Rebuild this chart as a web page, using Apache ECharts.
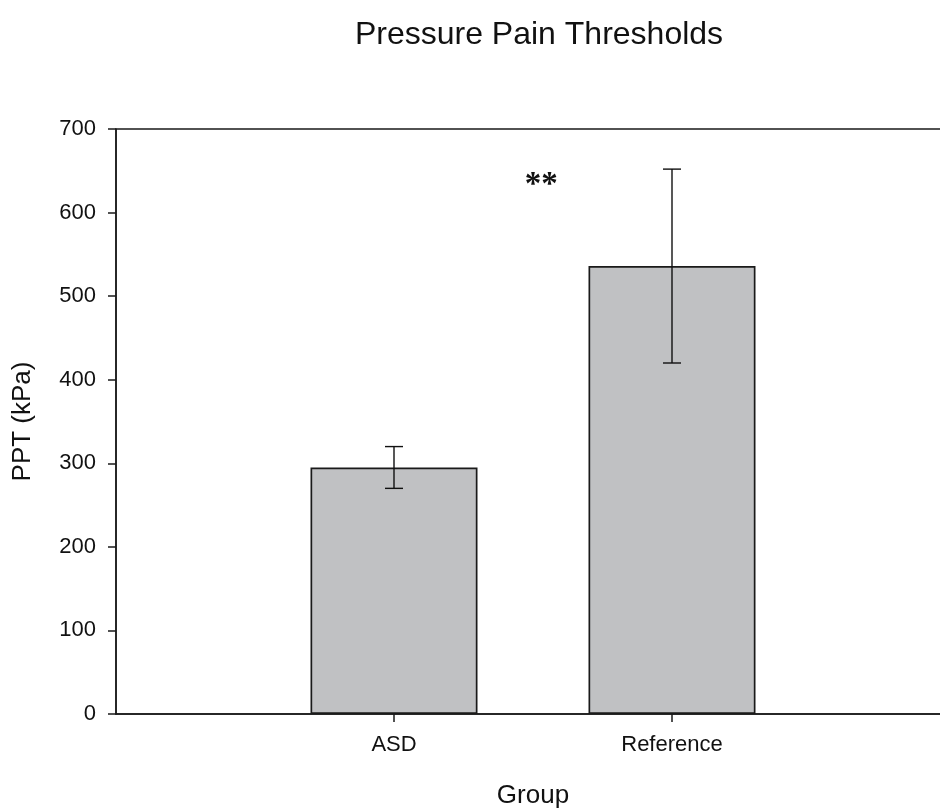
<!DOCTYPE html>
<html>
<head>
<meta charset="utf-8">
<script src="https://cdn.jsdelivr.net/npm/echarts@6/dist/echarts.min.js"></script>
<style>html,body{margin:0;padding:0;background:#fff}#c{width:940px;height:808px}</style>
</head>
<body>
<div id="c"></div>
<script>
var categories = ['ASD', 'Reference'];
var means = [295, 536];
var errLower = [270, 420];
var errUpper = [320, 652];
var yTicks = [0, 100, 200, 300, 400, 500, 600, 700];
var annotationText = '**';
var annotationPos = [1.53, 632];

var axisCats = [''].concat(categories).concat(['']);
var barData = ['-'].concat(means).concat(['-']);
var errData = categories.map(function (c, i) { return [i + 1, errLower[i], errUpper[i]]; });

var FONT = '"Liberation Sans", Arial, sans-serif';
var chart = echarts.init(document.getElementById('c'));
chart.setOption({
  animation: false,
  backgroundColor: '#ffffff',
  title: {
    text: 'Pressure Pain Thresholds',
    left: 534, top: 14, textAlign: 'center',
    textStyle: { fontFamily: FONT, fontSize: 32, fontWeight: 'normal', color: '#111' }
  },
  grid: {
    left: 116, top: 129, width: 834, bottom: 94,
    outerBoundsMode: 'none', containLabel: false,
    show: true, borderColor: '#1a1a1a', borderWidth: 1.5, backgroundColor: 'transparent'
  },
  xAxis: {
    type: 'category', data: axisCats, boundaryGap: false,
    name: 'Group', nameLocation: 'middle', nameGap: 69,
    nameTextStyle: { fontFamily: FONT, fontSize: 26, color: '#111' },
    axisLine: { lineStyle: { color: '#1a1a1a', width: 1.5 } },
    axisTick: { show: true, length: 8, lineStyle: { color: '#1a1a1a', width: 1.5 },
      interval: function (idx, val) { return val !== ''; } },
    axisLabel: { interval: 0, margin: 20, fontFamily: FONT, fontSize: 22, color: '#111' },
    splitLine: { show: false }
  },
  yAxis: {
    type: 'value', min: 0, max: 700, interval: 100,
    name: 'PPT (kPa)', nameLocation: 'middle', nameGap: 80, nameRotate: 90,
    nameTextStyle: { fontFamily: FONT, fontSize: 26, color: '#111' },
    axisLine: { show: true, lineStyle: { color: '#1a1a1a', width: 1.5 } },
    axisTick: { show: true, length: 8, lineStyle: { color: '#1a1a1a', width: 1.5 } },
    axisLabel: { margin: 20, fontFamily: FONT, fontSize: 22, color: '#111',
      formatter: function (v) { return yTicks.indexOf(v) >= 0 ? String(v) : ''; } },
    splitLine: { show: false }
  },
  series: [
    {
      type: 'bar', data: barData, barWidth: 167,
      itemStyle: { color: '#c0c1c3', borderColor: '#1a1a1a', borderWidth: 1.7 },
      z: 2
    },
    {
      type: 'custom', data: errData, z: 5,
      renderItem: function (params, api) {
        var x = api.value(0);
        var lo = api.coord([x, api.value(1)]);
        var hi = api.coord([x, api.value(2)]);
        var hw = 9;
        var st = { stroke: '#111', lineWidth: 1.4 };
        return { type: 'group', children: [
          { type: 'line', shape: { x1: lo[0], y1: lo[1], x2: hi[0], y2: hi[1] }, style: st },
          { type: 'line', shape: { x1: lo[0] - hw, y1: lo[1], x2: lo[0] + hw, y2: lo[1] }, style: st },
          { type: 'line', shape: { x1: hi[0] - hw, y1: hi[1], x2: hi[0] + hw, y2: hi[1] }, style: st }
        ] };
      }
    },
    {
      type: 'custom', data: [annotationPos], z: 6,
      renderItem: function (params, api) {
        var xv = api.value(0), yv = api.value(1);
        var i0 = Math.floor(xv), f = xv - i0;
        var p0 = api.coord([i0, yv]);
        var p1 = api.coord([i0 + 1, yv]);
        var px = p0[0] + (p1[0] - p0[0]) * f;
        return { type: 'text', x: px, y: p0[1],
          style: { text: annotationText, fill: '#111', font: 'bold 33px "Liberation Serif", serif',
            textAlign: 'center', textVerticalAlign: 'middle' } };
      }
    }
  ]
});
</script>
</body>
</html>
